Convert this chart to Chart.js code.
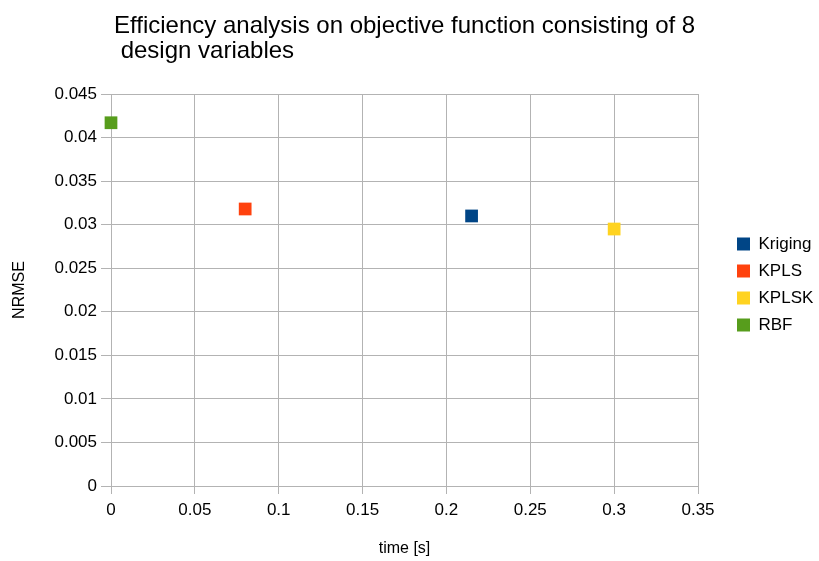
<!DOCTYPE html>
<html>
<head>
<meta charset="utf-8">
<script src="https://cdn.jsdelivr.net/npm/chart.js@4"></script>
<style>
  html, body { margin: 0; padding: 0; background: #ffffff; }
  #wrap { width: 819px; height: 561px; }
</style>
</head>
<body>
<div id="wrap"><canvas id="chart"></canvas></div>
<script>
// data
const seriesNames = ['Kriging', 'KPLS', 'KPLSK', 'RBF']
const timeValues = [0.215, 0.08, 0.3, 0]
const nrmseValues = [0.031, 0.0318, 0.0295, 0.0417]
const seriesColors = ['#004586', '#ff420e', '#ffd320', '#579d1c']
const titleLines = ['Efficiency analysis on objective function consisting of 8', ' design variables']

const FONT = "'Liberation Sans', Arial, sans-serif"

// title drawn left aligned like the original (second line has a leading space)
const titlePlugin = {
  id: 'leftTitle',
  afterDraw(chart) {
    const ctx = chart.ctx
    ctx.save()
    ctx.font = '24px ' + FONT
    ctx.fillStyle = '#000000'
    ctx.textBaseline = 'middle'
    ctx.textAlign = 'left'
    ctx.fillText(titleLines[0], 114, 26)
    ctx.fillText(titleLines[1], 114, 51)
    ctx.restore()
  }
}

// legend: fixed width, items pushed right
const legendPlugin = {
  id: 'legendPlace',
  afterInit(chart) {
    const legend = chart.legend
    const origFit = legend.fit.bind(legend)
    legend.fit = function() {
      origFit()
      this.width = 121
      this.minSize = { width: this.width, height: this.height }
    }
  },
  afterLayout(chart) {
    const legend = chart.legend
    legend.left = 727
    legend.top = legend.top - 43
    legend.bottom = legend.bottom - 43
  }
}

// plain number labels: 0.04 not 0.040
const tickLabel = (value) => String(Number(value.toFixed(3)))

const datasets = seriesNames.map((name, i) => ({
  label: name,
  data: [{ x: timeValues[i], y: nrmseValues[i] }],
  backgroundColor: seriesColors[i],
  borderColor: seriesColors[i],
  borderWidth: 0,
  pointStyle: 'rect',
  pointRadius: 9,
  pointHoverRadius: 9,
  clip: false
}))

const ctx = document.getElementById('chart').getContext('2d')
new Chart(ctx, {
  type: 'scatter',
  data: { datasets: datasets },
  plugins: [titlePlugin, legendPlugin],
  options: {
    responsive: true,
    maintainAspectRatio: false,
    animation: false,
    layout: { padding: { top: 94, left: 0, right: 0, bottom: 0 } },
    scales: {
      x: {
        type: 'linear',
        min: 0,
        max: 0.35,
        ticks: {
          stepSize: 0.05,
          color: '#000000',
          font: { family: FONT, size: 17 },
          padding: 6,
          maxRotation: 0,
          callback: tickLabel
        },
        grid: { color: '#b3b3b3', lineWidth: 1, tickLength: 8 },
        border: { color: '#b3b3b3' },
        title: {
          display: true,
          text: 'time [s]',
          color: '#000000',
          font: { family: FONT, size: 16 },
          padding: { top: 4, bottom: 3 }
        },
        afterFit(scale) { scale.height = 75 }
      },
      y: {
        type: 'linear',
        min: 0,
        max: 0.045,
        ticks: {
          stepSize: 0.005,
          color: '#000000',
          font: { family: FONT, size: 17 },
          padding: 4,
          callback: tickLabel
        },
        grid: { color: '#b3b3b3', lineWidth: 1, tickLength: 10 },
        border: { color: '#b3b3b3' },
        title: {
          display: true,
          text: 'NRMSE',
          color: '#000000',
          font: { family: FONT, size: 16 },
          padding: { top: 10, bottom: 4 }
        },
        afterFit(scale) { scale.width = 111 }
      }
    },
    plugins: {
      title: { display: false },
      tooltip: { enabled: false },
      legend: {
        position: 'right',
        labels: {
          color: '#000000',
          font: { family: FONT, size: 17 },
          boxWidth: 13,
          boxHeight: 13,
          padding: 10
        }
      }
    }
  }
})
</script>
</body>
</html>
